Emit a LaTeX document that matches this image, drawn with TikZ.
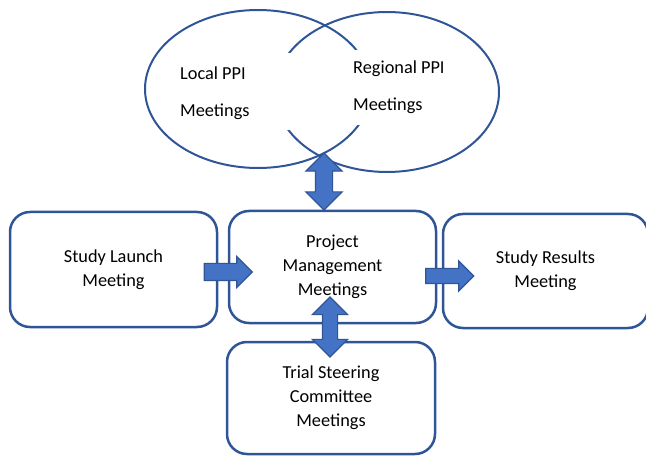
\documentclass[tikz,border=0pt]{standalone}
\usepackage{fontspec}
\setmainfont{Carlito}
\usetikzlibrary{shapes.arrows}
\definecolor{bord}{HTML}{2F5597}
\definecolor{afill}{HTML}{4472C4}
\begin{document}
\begin{tikzpicture}[x=1pt,y=1pt,
  box/.style={draw=bord, line width=2.5pt, rounded corners=20pt, align=center,
    font=\fontsize{18.3}{24}\selectfont, inner sep=0pt},
  ell/.style={draw=bord, line width=2pt},
  ppi/.style={align=left, font=\fontsize{18.3}{37}\selectfont, inner sep=0pt},
  mask/.style={fill=white, draw=none},
  sarrow/.style={single arrow, draw=bord, fill=afill, line width=1.2pt, inner sep=0pt},
  darrow/.style={double arrow, draw=bord, fill=afill, line width=1.2pt, inner sep=0pt, rotate=90},
]
\useasboundingbox (0,0) rectangle (646,456);
% PPI ellipses
\draw[ell] (258,367) ellipse [x radius=113, y radius=79];
\draw[ell] (387,364) ellipse [x radius=112, y radius=80];
\fill[mask] (174,326) rectangle (292,403);
\fill[mask] (345,331) rectangle (470,406);
\node[ppi, anchor=base west] (local) at (180,339) {Local PPI\\Meetings};
\node[ppi, anchor=base west] (regional) at (353,345) {Regional PPI\\Meetings};
% boxes
\node[box, minimum width=207pt, minimum height=115pt] (launch) at (113.5,186.5) {Study Launch\\Meeting};
\node[box, minimum width=207pt, minimum height=112pt] (pm) at (332.5,189) {Project\\Management\\Meetings};
\node[box, minimum width=205pt, minimum height=114pt] (results) at (545.5,185) {Study Results\\Meeting};
\node[box, minimum width=208pt, minimum height=112pt] (tsc) at (331,58) {Trial Steering\\Committee\\Meetings};
% block arrows
\node[sarrow, minimum height=48pt, inner ysep=8pt, single arrow head extend=7pt] (a1) at (224,184) {};
\node[sarrow, minimum height=48pt, inner ysep=7pt, single arrow head extend=7.5pt] (a2) at (446,180) {};
\node[darrow, minimum height=57pt, inner ysep=8pt, double arrow head extend=9.5pt] (a3) at (324,274.5) {};
\node[darrow, minimum height=60pt, inner ysep=7pt, double arrow head extend=10pt] (a4) at (330,129) {};
\end{tikzpicture}
\end{document}
